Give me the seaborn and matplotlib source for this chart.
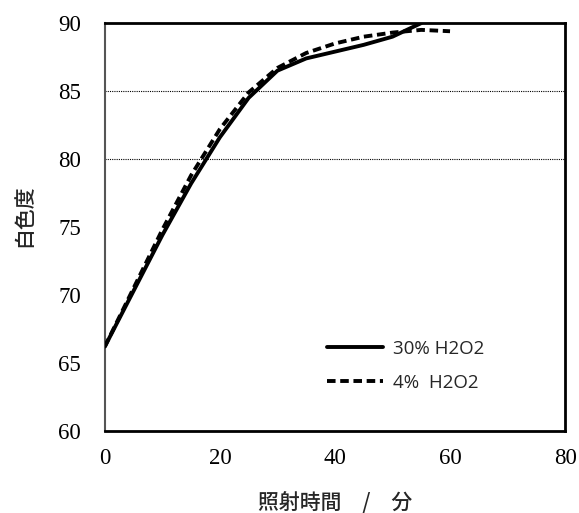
import pandas as pd
import matplotlib
matplotlib.use("Agg")
import matplotlib.pyplot as plt
import seaborn as sns

# values
time_30 = [0, 5, 10, 15, 20, 25, 30, 35, 40, 45, 50, 55]
white_30 = [66.2, 70.3, 74.4, 78.2, 81.6, 84.5, 86.5, 87.4, 87.9, 88.4, 89.0, 90.0]
time_4 = [0, 5, 10, 15, 20, 25, 30, 35, 40, 45, 50, 55, 60]
white_4 = [66.2, 70.5, 74.8, 78.8, 82.2, 84.9, 86.7, 87.8, 88.5, 89.0, 89.3, 89.5, 89.4]
labels = ["30% H2O2", "4%  H2O2"]
ref_lines = [80, 85]

df = pd.concat([
    pd.DataFrame({"t": time_30, "w": white_30, "series": labels[0]}),
    pd.DataFrame({"t": time_4, "w": white_4, "series": labels[1]}),
])

sns.set_style("white")
plt.rcParams["font.family"] = ["Liberation Serif", "Noto Sans CJK JP"]

fig = plt.figure(figsize=(5.79, 5.13), dpi=100)
ax = fig.add_axes([0.181, 0.160, 0.795, 0.795])

for y in ref_lines:
    ax.axhline(y, color="black", lw=0.8, ls=(0, (1, 1)), zorder=1)

sns.lineplot(data=df, x="t", y="w", style="series", color="black", lw=2.8,
             dashes={labels[0]: "", labels[1]: (2.2, 1.2)}, ax=ax, zorder=3)

ax.set_xlim(0, 80)
ax.set_ylim(60, 90)
ax.set_xticks([0, 20, 40, 60, 80])
ax.set_yticks([60, 65, 70, 75, 80, 85, 90])
ax.tick_params(axis="both", labelsize=16.5, colors="#888888", labelcolor="black")
ax.tick_params(axis="x", direction="out", length=5, width=1, pad=7)
ax.tick_params(axis="y", direction="in", length=3, width=1, pad=17)

for s in ["top", "right", "bottom"]:
    ax.spines[s].set_color("black")
    ax.spines[s].set_linewidth(2)
ax.spines["left"].set_color("#555555")
ax.spines["left"].set_linewidth(1.5)

ax.set_xlabel("照射時間　/　分", fontsize=15, family="Noto Sans CJK JP",
              fontweight="medium", labelpad=17)
ax.set_ylabel("白色度", fontsize=15, family="Noto Sans CJK JP",
              fontweight="medium")
ax.yaxis.set_label_coords(-0.152, 0.528)

leg = ax.legend(loc="lower right", bbox_to_anchor=(0.86, 0.055), frameon=False,
                handlelength=3.0, handletextpad=0.5, labelspacing=0.85,
                prop={"family": "Open Sans", "size": 13.5})
for h in leg.get_lines():
    h.set_linewidth(2.8)

fig.savefig("out.png", dpi=100)
